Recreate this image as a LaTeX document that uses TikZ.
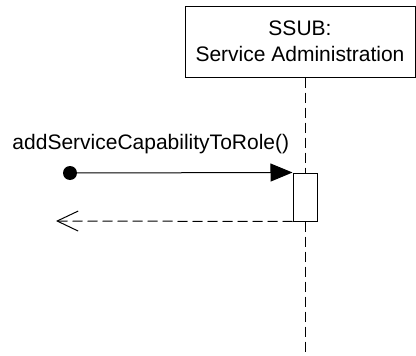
\documentclass[tikz,border=0pt]{standalone}
\usepackage{fontspec}
\setmainfont{Liberation Sans}
\usetikzlibrary{arrows.meta}

\tikzset{
  objbox/.style={draw,minimum width=230pt,minimum height=71pt,align=center,inner sep=0pt},
  actbox/.style={draw,fill=white,minimum width=24pt,minimum height=48pt,inner sep=0pt},
  lifeline/.style={dash pattern=on 10pt off 5pt},
  callmsg/.style={-{Triangle[length=22pt,width=18pt]}},
  retmsg/.style={dash pattern=on 10pt off 5pt,-{Straight Barb[length=21pt,width=20pt]}}
}

\begin{document}
\begin{tikzpicture}[x=1pt,y=-1pt,line width=1pt,font=\fontsize{21}{26}\selectfont]
\useasboundingbox (0,0) rectangle (416,356);

% ===== OBJECT (top right) =====
\node[objbox] (ssub) at (300,41.5) {SSUB:\\Service Administration};

% ===== ACTIVATION + LIFELINE =====
\node[actbox] (act) at (305,197) {};
\coordinate (lifeEnd) at (305,356);
\draw[lifeline] (act.north |- ssub.south) -- (act.north);
\draw[lifeline] (act.south) -- (lifeEnd);

% ===== FOUND MESSAGE =====
\node[circle,fill,minimum size=14pt,inner sep=0pt] (caller) at (70,173) {};
\node[anchor=base west,inner sep=0pt] (msg) at (12,149) {addServiceCapabilityToRole()};
\draw[callmsg] (caller.center) -- (act.north west);

% ===== RETURN =====
\coordinate (back) at (56,221);
\draw[retmsg] (act.south west) -- (back);

\end{tikzpicture}
\end{document}
